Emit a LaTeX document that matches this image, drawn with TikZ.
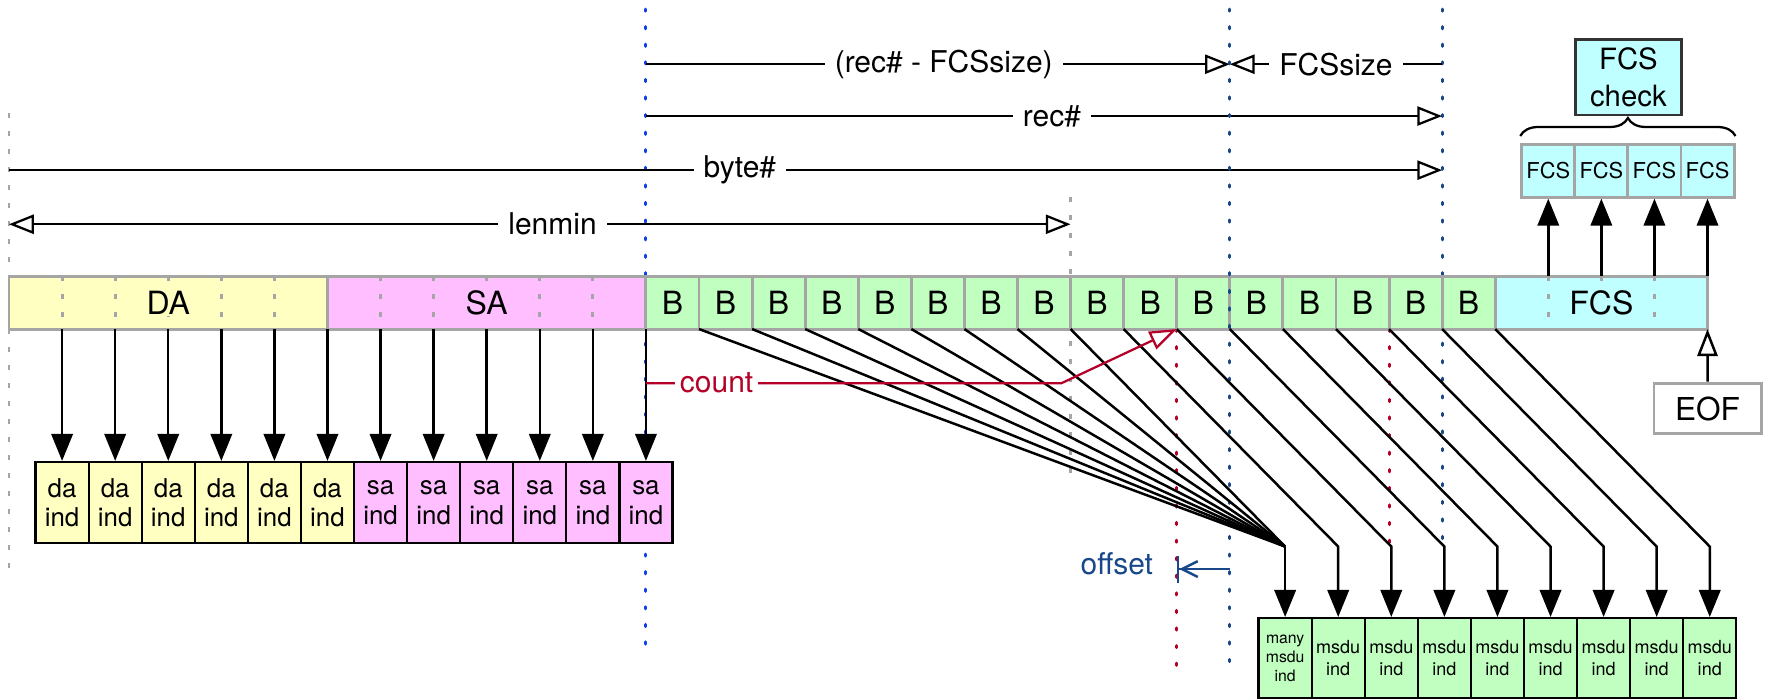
\documentclass[tikz,border=0pt]{standalone}
\usepackage{fontspec}
\setmainfont{TeX Gyre Heros}
\usetikzlibrary{arrows.meta, decorations.pathreplacing}
\definecolor{dayellow}{RGB}{255,255,194}
\definecolor{sapink}{RGB}{255,190,255}
\definecolor{bgreen}{RGB}{192,255,192}
\definecolor{fcscyan}{RGB}{192,255,255}
\definecolor{rowgray}{RGB}{165,165,165}
\definecolor{cntred}{RGB}{180,0,40}
\definecolor{navy}{RGB}{25,72,138}
\definecolor{recblue}{RGB}{15,65,235}
\newcommand{\cw}{47.1}
\newcommand{\bigf}{\fontsize{13.3}{15}\selectfont}
\newcommand{\rowf}{\fontsize{14.2}{16}\selectfont}
\tikzset{tipo/.tip={Triangle[open, length=11pt, width=8.5pt]}}

\begin{document}
\begin{tikzpicture}[x=0.5pt, y=-0.5pt, line width=1pt,
    cell/.style={draw=rowgray, line width=1.3pt, minimum height=23.5pt, inner sep=0pt},
    lbl/.style={fill=white, inner xsep=4.5pt, inner ysep=1pt, font=\bigf},
    dim/.style={-tipo},
    arr/.style={line width=1.1pt, -{Triangle[length=12pt, width=9.5pt]}},
    gdash/.style={rowgray, line width=1.3pt, dash pattern=on 2.2pt off 5.8pt},
    dots/.style={line width=1.3pt, line cap=round, dash pattern=on 1pt off 6.8pt},
    ind/.style={draw, minimum width=23.55pt, minimum height=36pt, inner sep=0pt, align=center, font=\fontsize{11.5}{13}\selectfont},
    msdu/.style={draw, fill=bgreen, minimum width=23.55pt, minimum height=35.5pt, inner sep=0pt, align=center, font=\fontsize{8}{10}\selectfont},
    fcs/.style={draw=rowgray, line width=1.3pt, fill=fcscyan, minimum width=23.55pt, minimum height=23.5pt, inner sep=0pt, font=\fontsize{9.7}{11}\selectfont}]
    \useasboundingbox (0,0) rectangle (1568,620);

    % cell edges of the frame row
    \foreach \k in {0,...,32} {
        \coordinate (up\k) at ({8+\k*\cw},245);
        \coordinate (dn\k) at ({8+\k*\cw},292);
    }

    % guide lines
    \coordinate (ga) at (8,100);       \coordinate (gb) at (8,515);
    \coordinate (gc) at (950,175);     \coordinate (gd) at (950,430);
    \coordinate (ba) at (573.2,8);     \coordinate (bb) at (573.2,580);
    \coordinate (na) at (1091.3,8);    \coordinate (nb) at (1091.3,598);
    \coordinate (nc) at (1279.7,8);    \coordinate (nd) at (1279.7,485);
    \coordinate (ra) at (1044.2,292);  \coordinate (rb) at (1044.2,598);
    \coordinate (rc) at (1232.6,292);  \coordinate (rd) at (1232.6,485);
    \draw[gdash] (ga) -- (gb);
    \draw[gdash] (gc) -- (gd);
    \draw[dots, recblue] (ba) -- (bb);
    \draw[dots, navy] (nc) -- (nd);
    \draw[dots, cntred] (ra) -- (rb);
    \draw[dots, cntred] (rc) -- (rd);

    % sizes
    \coordinate (fa) at (573.2,57);  \coordinate (fb) at (1091.3,57);  \coordinate (fc) at (1279.7,57);
    \coordinate (rec0) at (573.2,103);  \coordinate (rec1) at (1279.7,103);
    \coordinate (byt0) at (8,151);      \coordinate (byt1) at (1279.7,151);
    \coordinate (len0) at (8,199);      \coordinate (len1) at (950,199);
    \draw[dim] (fa) -- node[lbl, pos=0.51]{(rec\# - FCSsize)} (fb);
    \draw[dim] (fc) -- node[lbl]{FCSsize} (fb);
    \draw[dim] (rec0) -- node[lbl, pos=0.51]{rec\#} (rec1);
    \draw[dim] (byt0) -- node[lbl, pos=0.51]{byte\#} (byt1);
    \draw[tipo-tipo] (len0) -- node[lbl, pos=0.512]{lenmin} (len1);

    % frame row
    \node[cell, fill=dayellow, minimum width=141.3pt] (DA) at ({8+3*\cw},268.5) {};
    \node[cell, fill=sapink, minimum width=141.3pt] (SA) at ({8+9*\cw},268.5) {};
    \node[cell, fill=fcscyan, minimum width=94.2pt] (FCS) at ({8+30*\cw},268.5) {};
    \foreach \i in {1,...,16}
        \node[cell, fill=bgreen, minimum width=23.55pt, font=\rowf] (b\i) at ({8+(11.5+\i)*\cw},268.5) {B};
    \foreach \k in {1,...,5,7,8,9,10,11,29,30,31}
        \draw[gdash] (up\k) -- (dn\k);
    \node[fill=dayellow, inner sep=1pt, font=\rowf] (DAt) at (DA) {DA};
    \node[fill=sapink, inner sep=1pt, font=\rowf] (SAt) at (SA) {SA};
    \node[fill=fcscyan, inner sep=1pt, font=\rowf] (FCSt) at (FCS) {FCS};
    \draw[dots, navy] (na) -- (nb);

    % address indices
    \foreach \k in {1,...,6}
        \node[ind, fill=dayellow] (i\k) at ({8+\k*\cw},446) {da\\ind};
    \foreach \k in {7,...,12}
        \node[ind, fill=sapink] (i\k) at ({8+\k*\cw},446) {sa\\ind};
    \foreach \k in {1,...,12}
        \draw[arr] (dn\k) -- (i\k);

    % msdu indices
    \node[msdu, font=\fontsize{7}{8.5}\selectfont] (m0) at (1140.4,584) {many\\msdu\\ind};
    \foreach \j in {1,...,8}
        \node[msdu] (m\j) at ({1140.4+\j*\cw},584) {msdu\\ind};
    \foreach \j in {0,...,8}
        \coordinate (k\j) at ({1140.4+\j*\cw},485);
    \foreach \k in {13,...,20}
        \draw[line width=1.1pt] (dn\k) -- (k0);
    \draw[arr] (k0) -- (m0);
    \foreach \j [evaluate=\j as \k using int(20+\j)] in {1,...,8}
        \draw[arr] (dn\k) -- (k\j) -- (m\j);

    % count and offset
    \coordinate (c0) at (573.2,340);  \coordinate (c1) at (942,340);
    \draw[cntred, -{Triangle[open, length=12pt, width=8.5pt]}] (c0) -- node[pos=0.17, fill=white, inner sep=2pt, font=\bigf]{count} (c1) -- (dn22);
    \coordinate (o0) at (1091.3,505);  \coordinate (o1) at (1044.2,505);
    \draw[navy, line width=1.1pt, -{Straight Barb[length=7pt, width=7pt] Bar[width=12pt]}] (o0) -- (o1)
        node[left=10pt, yshift=2.5pt, inner sep=0pt, font=\bigf, text=navy]{offset};

    % FCS check
    \foreach \i/\k in {1/29,2/30,3/31,4/32}
        \node[fcs] (f\i) at ({8+\k*\cw},151.5) {FCS};
    \foreach \i/\k in {1/29,2/30,3/31,4/32}
        \draw[arr] (up\k) -- (f\i);
    \draw[decorate, decoration={brace, amplitude=8pt, raise=3pt}] (f1.north west) -- (f4.north east);
    \node[draw=black!80, line width=1.2pt, fill=fcscyan, minimum width=47pt, minimum height=33.5pt, align=center, font=\fontsize{13}{16.5}\selectfont] (chk) at (1445,68.5) {FCS\\check};

    % end of frame
    \node[draw=rowgray, line width=1.3pt, fill=white, minimum width=47.5pt, minimum height=22.5pt, font=\fontsize{14}{16}\selectfont] (EOF) at (1515.2,362.5) {EOF};
    \draw[line width=1.1pt, -{Triangle[open, length=12pt, width=9pt]}] (EOF) -- (dn32);
\end{tikzpicture}
\end{document}
